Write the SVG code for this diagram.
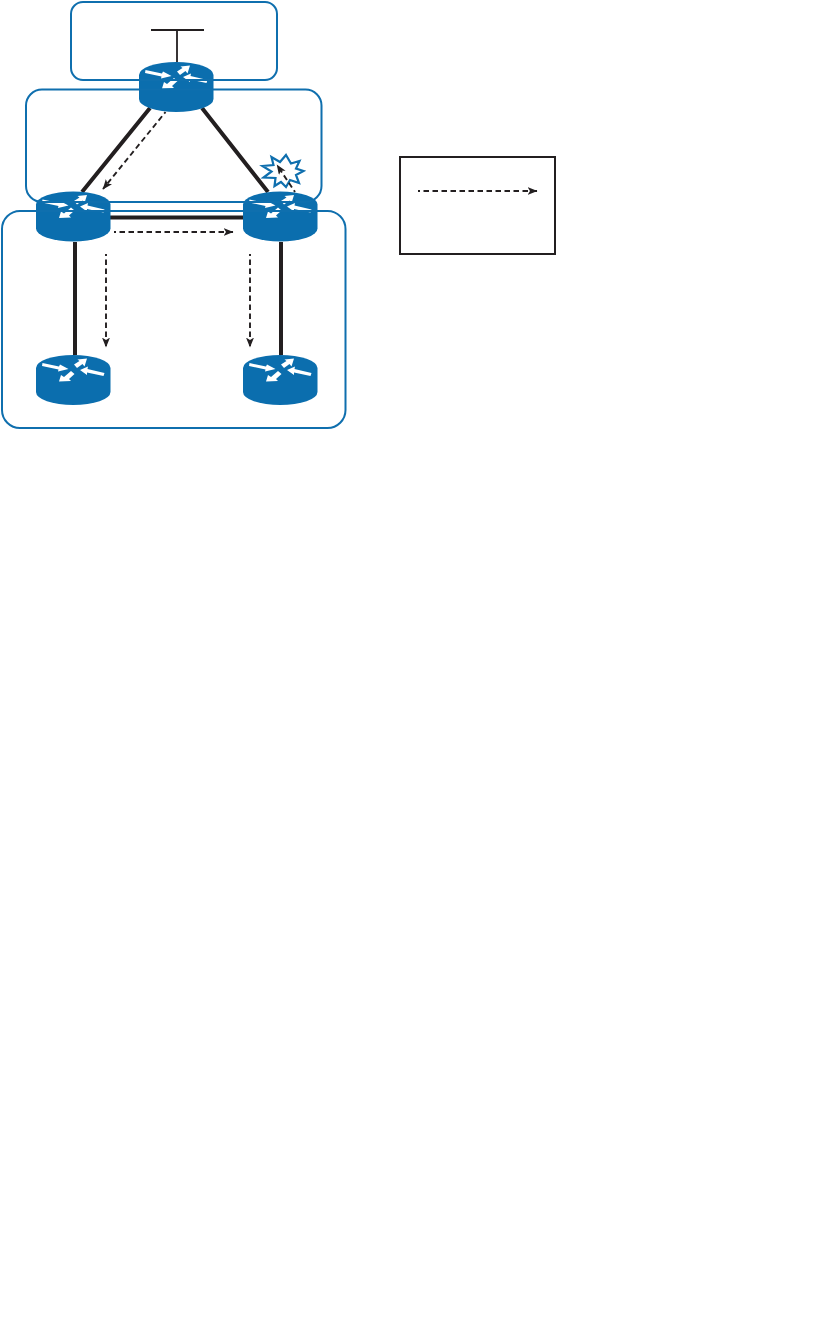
<svg xmlns="http://www.w3.org/2000/svg" width="814" height="1329" viewBox="0 0 814 1329">
<style>
.region{fill:none;stroke:#0f6fae;stroke-width:2}
.link{fill:none;stroke:#231f20;stroke-width:4}
.thin{fill:none;stroke:#231f20;stroke-width:1.8}
.flow{fill:none;stroke:#231f20;stroke-width:1.9;stroke-dasharray:5.500 3.500;stroke-dashoffset:3.500;marker-end:url(#head)}
.body{fill:#0b6eae}
.ar{fill:#fff}
</style>
<defs>
<marker id="head" markerUnits="userSpaceOnUse" markerWidth="12" markerHeight="9" refX="9.500" refY="4" orient="auto">
<path d="M0 0L10 4 0 8 2.500 4z" fill="#231f20"/>
</marker>
<g id="router">
<path class="body" d="M0 13A37.250 13 0 0 1 74.500 13V37A37.250 13 0 0 1 0 37z"/>
<path class="ar" d="M6.500 8L23 11.500 24 9.500 32.500 14 22 16.500 22.500 14.500 6 11z"/>
<path class="ar" d="M38 9.500L43.500 6 41.500 4.500 51 3.500 48.500 11.500 46.500 9 41 13z"/>
<path class="ar" d="M35 16L38.500 19 33 24 35 26 23 26.500 25 20 28 22z"/>
<path class="ar" d="M68.500 18L67.500 21 51 17.500 51 20 44 15 52 11.500 51.500 14z"/>
</g>
</defs>
<g id="connectors">
<path class="thin" d="M151 30H204M177 30V62"/>
<path class="link" d="M150 108L82 192M202 108L268 192M110 217.500H243M75 242V355M281 242V355"/>
<path class="flow" d="M165.500 112L103 189"/>
<path class="flow" d="M114 232H233"/>
<path class="flow" d="M106 254V347"/>
<path class="flow" d="M250 254V347"/>
</g>
<g id="router-top"><use href="#router" x="139" y="62"/></g>
<g id="router-left"><use href="#router" x="36" y="191.500"/></g>
<g id="router-right"><use href="#router" x="243" y="191.500"/></g>
<g id="router-bottom-left"><use href="#router" x="36" y="355"/></g>
<g id="router-bottom-right"><use href="#router" x="243" y="355"/></g>
<g id="regions">
<rect class="region" x="71" y="2" width="206" height="78" rx="12"/>
<rect class="region" x="26" y="89.500" width="295.500" height="112.500" rx="16"/>
<rect class="region" x="2" y="211" width="343.500" height="217" rx="18"/>
</g>
<g id="failure">
<path d="M286 155L291 163.500 299.500 161 296 168.500 303.500 171 296 175 299 183 290 180 286 187 281 182 274.500 186 275.500 178 263.500 177.500 271.500 171.500 262.500 166 273.500 165 271.500 157 280 162z" fill="#fff" stroke="#0f6fae" stroke-width="2.200"/>
<path class="flow" d="M295 192L277 165"/>
</g>
<g id="legend">
<rect x="400" y="157" width="155" height="97" fill="none" stroke="#231f20" stroke-width="2"/>
<path class="flow" d="M418 191H537"/>
</g>
</svg>
